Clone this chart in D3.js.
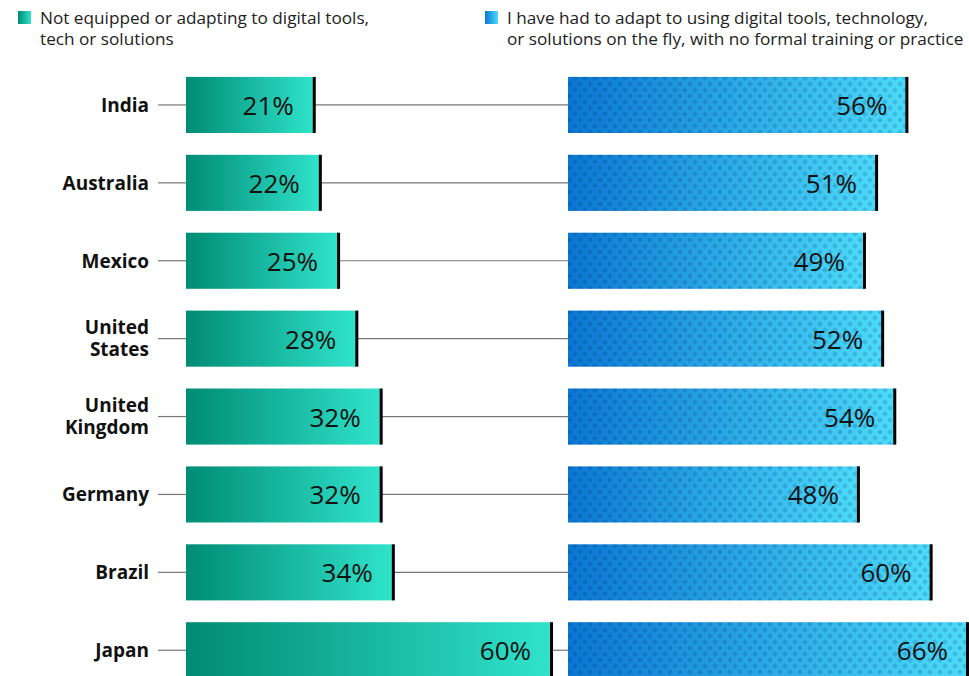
<!DOCTYPE html>
<html lang="en">
<head>
    <meta charset="UTF-8">
    <title>Digital tools adaptation by country</title>
    <script src="https://d3js.org/d3.v7.min.js"></script>
    <style>
        body { margin: 0; background: #fff; }
        svg { display: block; }
    </style>
</head>
<body>
    <div id="chart"></div>
    <script>
        // data
        var countries = ["India", "Australia", "Mexico", "United States", "United Kingdom", "Germany", "Brazil", "Japan"];
        var notEquipped = [21, 22, 25, 28, 32, 32, 34, 60];
        var adaptedOnFly = [56, 51, 49, 52, 54, 48, 60, 66];
        var legendLabels = [
            ["Not equipped or adapting to digital tools,", "tech or solutions"],
            ["I have had to adapt to using digital tools, technology,", "or solutions on the fly, with no formal training or practice"]
        ];

        var w = 969;
        var h = 676;
        var font = "'Open Sans', 'Noto Sans', sans-serif";

        var svg = d3.select("#chart")
            .append("svg")
            .attr("width", w)
            .attr("height", h);

        var defs = svg.append("defs");

        var gGreen = defs.append("linearGradient").attr("id", "gGreen");
        gGreen.append("stop").attr("offset", "0%").attr("stop-color", "#008b74");
        gGreen.append("stop").attr("offset", "100%").attr("stop-color", "#30e3cb");

        var gBlue = defs.append("linearGradient").attr("id", "gBlue");
        gBlue.append("stop").attr("offset", "0%").attr("stop-color", "#0a77d2");
        gBlue.append("stop").attr("offset", "100%").attr("stop-color", "#4cdcfa");

        // small diamond texture on the blue bars
        var pat = defs.append("pattern")
            .attr("id", "diamonds")
            .attr("patternUnits", "userSpaceOnUse")
            .attr("width", 10)
            .attr("height", 12);
        [[0, 0], [10, 0], [5, 6], [0, 12], [10, 12]].forEach(function(p) {
            pat.append("path")
                .attr("d", "M" + p[0] + "," + (p[1] - 3) + "L" + (p[0] + 3) + "," + p[1] +
                    "L" + p[0] + "," + (p[1] + 3) + "L" + (p[0] - 3) + "," + p[1] + "Z")
                .attr("fill", "rgba(0,40,110,0.18)");
        });

        // legend
        var legendX = [18, 485];
        var legendFill = ["url(#gGreen)", "url(#gBlue)"];
        legendLabels.forEach(function(lines, i) {
            svg.append("rect")
                .attr("x", legendX[i])
                .attr("y", 11)
                .attr("width", 13)
                .attr("height", 13)
                .attr("fill", legendFill[i]);
            var t = svg.append("text")
                .attr("x", legendX[i] + 22)
                .attr("y", 24)
                .attr("font-family", font)
                .attr("font-size", "17.2px")
                .attr("fill", "#222");
            lines.forEach(function(l, j) {
                t.append("tspan")
                    .attr("x", legendX[i] + 22)
                    .attr("dy", j === 0 ? 0 : 21)
                    .text(l);
            });
        });

        // scales
        var yScale = d3.scaleBand()
            .domain(countries)
            .range([66, 66 + 77.9 * countries.length])
            .paddingInner(0.28)
            .paddingOuter(0.14);

        var xLeft = d3.scaleLinear()
            .domain([0, 60])
            .range([186, 551]);

        var xRight = d3.scaleLinear()
            .domain([0, 66])
            .range([568, 968]);

        var bh = yScale.bandwidth();
        var mid = function(c) { return yScale(c) + bh / 2; };

        var rows = svg.selectAll("g.row")
            .data(countries)
            .enter()
            .append("g")
            .attr("class", "row");

        // connector lines
        rows.append("line")
            .attr("x1", 158)
            .attr("x2", 186)
            .attr("y1", mid)
            .attr("y2", mid)
            .attr("stroke", "#777")
            .attr("stroke-width", 1.2);

        rows.append("line")
            .attr("x1", (d, i) => xLeft(notEquipped[i]))
            .attr("x2", xRight(0))
            .attr("y1", mid)
            .attr("y2", mid)
            .attr("stroke", "#777")
            .attr("stroke-width", 1.2);

        // country labels
        rows.append("text")
            .attr("x", 149)
            .attr("y", mid)
            .attr("text-anchor", "end")
            .attr("font-family", font)
            .attr("font-weight", "bold")
            .attr("font-size", "19px")
            .attr("fill", "#111")
            .each(function(d) {
                var words = d.split(" ");
                var t = d3.select(this);
                var startDy = words.length > 1 ? -5 : 7;
                words.forEach(function(wd, j) {
                    t.append("tspan")
                        .attr("x", 149)
                        .attr("dy", j === 0 ? startDy : 22)
                        .text(wd);
                });
            });

        // left bars
        rows.append("rect")
            .attr("x", xLeft(0))
            .attr("y", d => yScale(d))
            .attr("width", (d, i) => xLeft(notEquipped[i]) - xLeft(0))
            .attr("height", bh)
            .attr("fill", "url(#gGreen)");

        rows.append("line")
            .attr("x1", (d, i) => xLeft(notEquipped[i]) + 0.5)
            .attr("x2", (d, i) => xLeft(notEquipped[i]) + 0.5)
            .attr("y1", d => yScale(d))
            .attr("y2", d => yScale(d) + bh)
            .attr("stroke", "#000")
            .attr("stroke-width", 3);

        rows.append("text")
            .attr("x", (d, i) => xLeft(notEquipped[i]) - 20)
            .attr("y", d => mid(d) + 10)
            .attr("text-anchor", "end")
            .attr("font-family", font)
            .attr("font-size", "26px")
            .attr("fill", "#111")
            .text((d, i) => notEquipped[i] + "%");

        // right bars
        rows.append("rect")
            .attr("x", xRight(0))
            .attr("y", d => yScale(d))
            .attr("width", (d, i) => xRight(adaptedOnFly[i]) - xRight(0))
            .attr("height", bh)
            .attr("fill", "url(#gBlue)");

        rows.append("rect")
            .attr("x", xRight(0))
            .attr("y", d => yScale(d))
            .attr("width", (d, i) => xRight(adaptedOnFly[i]) - xRight(0))
            .attr("height", bh)
            .attr("fill", "url(#diamonds)");

        rows.append("line")
            .attr("x1", (d, i) => xRight(adaptedOnFly[i]) - 0.5)
            .attr("x2", (d, i) => xRight(adaptedOnFly[i]) - 0.5)
            .attr("y1", d => yScale(d))
            .attr("y2", d => yScale(d) + bh)
            .attr("stroke", "#000")
            .attr("stroke-width", 3);

        rows.append("text")
            .attr("x", (d, i) => xRight(adaptedOnFly[i]) - 20)
            .attr("y", d => mid(d) + 10)
            .attr("text-anchor", "end")
            .attr("font-family", font)
            .attr("font-size", "26px")
            .attr("fill", "#111")
            .text((d, i) => adaptedOnFly[i] + "%");
    </script>
</body>
</html>
